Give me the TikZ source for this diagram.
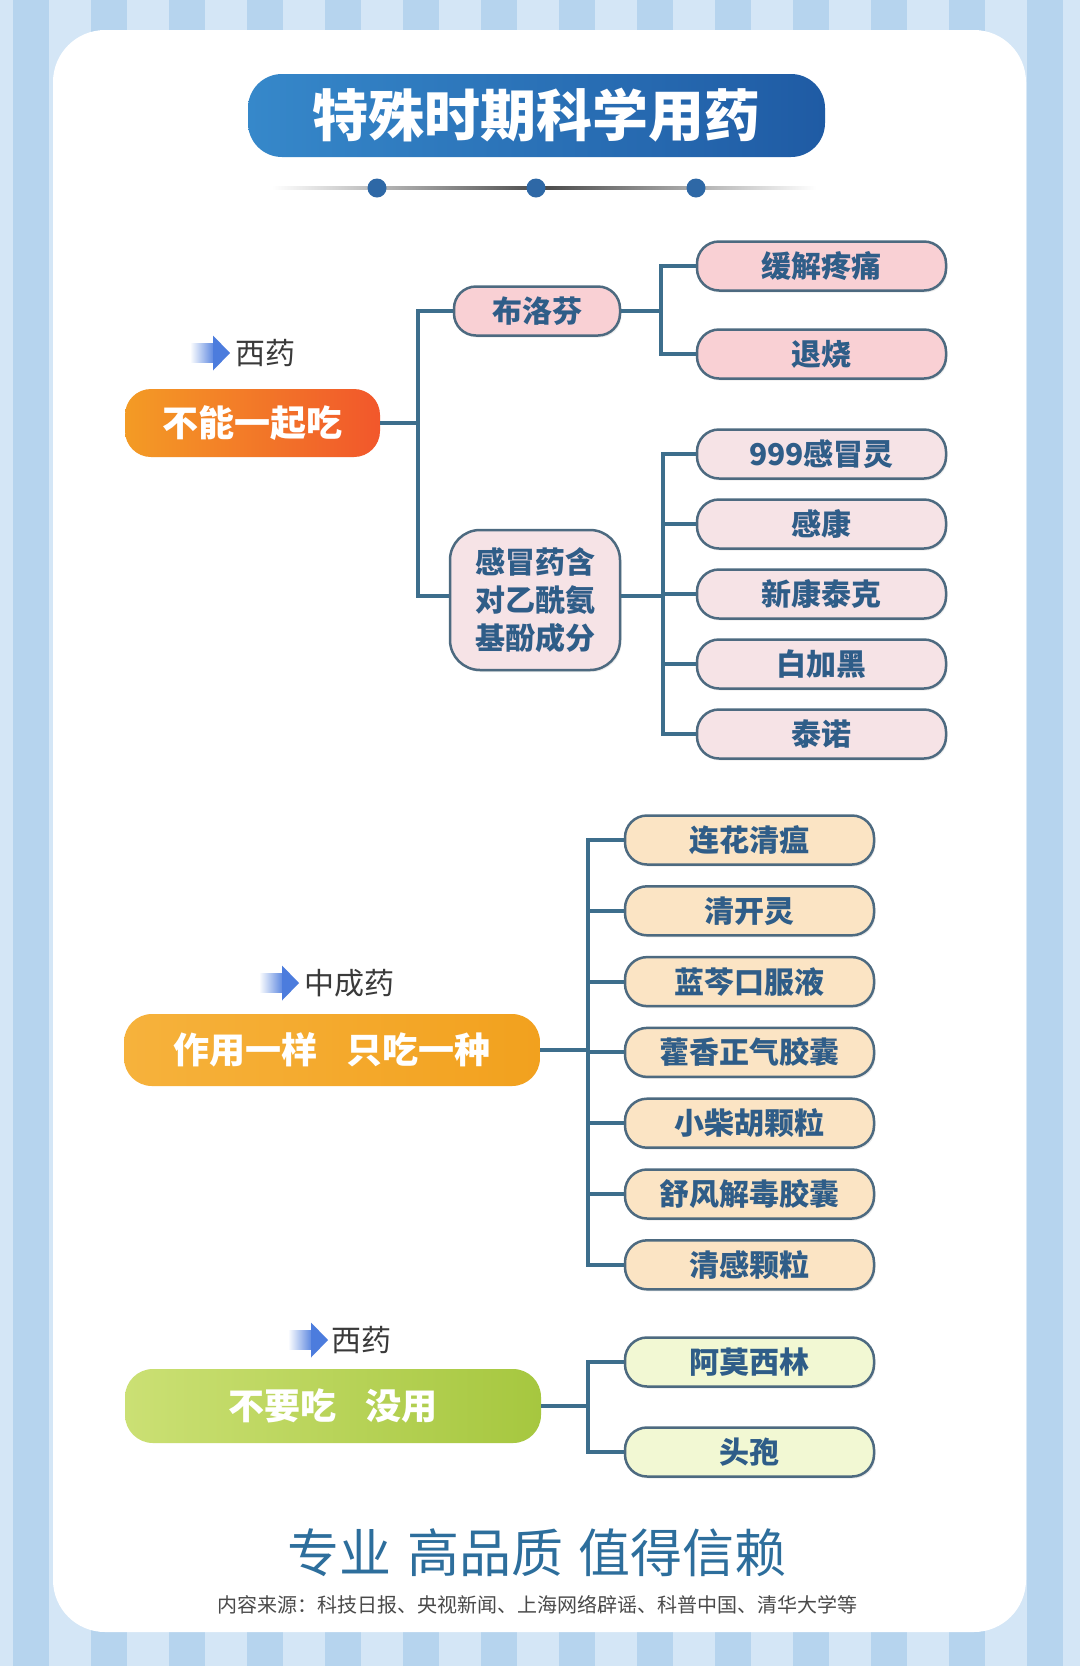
\documentclass[tikz,border=0pt]{standalone}
\usepackage{fontspec}
\setmainfont{Noto Sans CJK SC}
\usetikzlibrary{shadows}
\definecolor{stripeL}{HTML}{D4E6F6}
\definecolor{stripeD}{HTML}{B6D4EE}
\definecolor{titleL}{HTML}{3688CA}
\definecolor{titleR}{HTML}{1F5BA4}
\definecolor{dotblue}{HTML}{2E68A6}
\definecolor{linegray}{HTML}{4A4A4A}
\definecolor{boxline}{HTML}{4D6A80}
\definecolor{connc}{HTML}{3D6E8C}
\definecolor{txtblue}{HTML}{2F5D88}
\definecolor{tagc}{HTML}{3A3A3A}
\definecolor{arrowblue}{HTML}{4C7CDD}
\definecolor{pinkA}{HTML}{F9D0D4}
\definecolor{pinkB}{HTML}{F6E3E6}
\definecolor{orangeB}{HTML}{FBE4C4}
\definecolor{greenB}{HTML}{F2F8D3}
\definecolor{p1L}{HTML}{F39B25}
\definecolor{p1R}{HTML}{F2572B}
\definecolor{p2L}{HTML}{F6B23C}
\definecolor{p2R}{HTML}{F2A11E}
\definecolor{p3L}{HTML}{CBE074}
\definecolor{p3R}{HTML}{A6C73F}
\definecolor{foot}{HTML}{2D6E9C}
\definecolor{src}{HTML}{4A4A4A}
\begin{document}
\begin{tikzpicture}[x=1pt,y=-1pt,
  leaf/.style={draw=boxline, line width=2.5pt, rounded corners=22pt,
    minimum width=249pt, minimum height=49pt, inner sep=0pt, text=txtblue,
    font=\bfseries\fontsize{30}{36}\selectfont,
    drop shadow={opacity=0.15, shadow xshift=1.5pt, shadow yshift=-2pt}},
  mid/.style={leaf, minimum width=166pt},
  pill/.style={rounded corners=26pt, inner sep=0pt, text=white,
    font=\bfseries\fontsize{36}{42}\selectfont},
  conn/.style={draw=connc, line width=4pt},
  tag/.style={anchor=west, inner sep=0pt, text=tagc,
    font=\fontsize{30}{36}\selectfont},
  medarr/.pic={
    \shade[left color=white, right color=arrowblue] (0,-9.5) rectangle (26,9.5);
    \fill[arrowblue] (23,-17.5) -- (40,0) -- (23,17.5) -- cycle;
  }
]
\useasboundingbox (0,0) rectangle (1080,1666);
% background stripes
\fill[stripeL] (0,0) rectangle (1080,1666);
\foreach \i in {0,...,13} {
  \fill[stripeD] ({13+78*\i},0) rectangle ({49+78*\i},1666);
}
% card
\fill[white, rounded corners=52pt] (53,30) rectangle (1026,1632);

% title
\node[rounded corners=34pt, left color=titleL, right color=titleR,
  minimum width=577pt, minimum height=83pt, inner sep=0pt, text=white,
  font=\bfseries\fontsize{56}{60}\selectfont] (title) at (536.5,115.5) {特殊时期科学用药};
\shade[left color=white, right color=linegray] (272,186.5) rectangle (544,189.5);
\shade[left color=linegray, right color=white] (544,186.5) rectangle (816,189.5);
\fill[dotblue] (377,188) circle (9.5);
\fill[dotblue] (536,188) circle (9.5);
\fill[dotblue] (696,188) circle (9.5);

% ===== section 1 =====
\path (190,353) pic {medarr};
\node[tag] (t1) at (235,353) {西药};
\node[pill, left color=p1L, right color=p1R, minimum width=255pt, minimum height=68pt] (p1) at (252.5,423) {不能一起吃};

\node[mid, fill=pinkA] (blf) at (537,311) {布洛芬};
\node[leaf, fill=pinkB, minimum width=170pt, minimum height=140pt, rounded corners=30pt,
  align=center, font=\bfseries\fontsize{30}{38}\selectfont] (gm) at (535,600) {感冒药含\\对乙酰氨\\基酚成分};

\node[leaf, fill=pinkA] (a1) at (821.5,266) {缓解疼痛};
\node[leaf, fill=pinkA] (a2) at (821.5,354) {退烧};

\node[leaf, fill=pinkB] (b1) at (821.5,454) {999感冒灵};
\node[leaf, fill=pinkB] (b2) at (821.5,524) {感康};
\node[leaf, fill=pinkB] (b3) at (821.5,594) {新康泰克};
\node[leaf, fill=pinkB] (b4) at (821.5,664) {白加黑};
\node[leaf, fill=pinkB] (b5) at (821.5,734) {泰诺};

\coordinate (j1) at (418,423);
\coordinate (j2) at (661,311);
\coordinate (j3) at (663,596);
\draw[conn] (p1.east) -- (j1);
\draw[conn] (blf.west) -| (j1) |- (gm.west |- j3);
\draw[conn] (blf.east) -- (j2);
\draw[conn] (a1.west) -| (j2) |- (a2.west);
\draw[conn] (gm.east |- j3) -- (j3);
\draw[conn] (b1.west) -| (j3) |- (b5.west);
\draw[conn] (b2.west) -- (b2.west -| j3);
\draw[conn] (b3.west) -- (b3.west -| j3);
\draw[conn] (b4.west) -- (b4.west -| j3);

% ===== section 2 =====
\path (259,983) pic {medarr};
\node[tag] (t2) at (304,983) {中成药};
\node[pill, left color=p2L, right color=p2R, minimum width=416pt, minimum height=72pt, rounded corners=28pt] (p2) at (332,1050) {作用一样\hspace{0.8em}只吃一种};

\node[leaf, fill=orangeB] (c1) at (749.5,840) {连花清瘟};
\node[leaf, fill=orangeB] (c2) at (749.5,910.8) {清开灵};
\node[leaf, fill=orangeB] (c3) at (749.5,981.6) {蓝芩口服液};
\node[leaf, fill=orangeB] (c4) at (749.5,1052.4) {藿香正气胶囊};
\node[leaf, fill=orangeB] (c5) at (749.5,1123.2) {小柴胡颗粒};
\node[leaf, fill=orangeB] (c6) at (749.5,1194) {舒风解毒胶囊};
\node[leaf, fill=orangeB] (c7) at (749.5,1264.8) {清感颗粒};

\coordinate (j4) at (588,1050);
\draw[conn] (p2.east) -- (j4);
\draw[conn] (c1.west) -| (j4) |- (c7.west);
\foreach \n in {c2,c3,c4,c5,c6} {
  \draw[conn] (\n.west) -- (\n.west -| j4);
}

% ===== section 3 =====
\path (288,1340) pic {medarr};
\node[tag] (t3) at (331,1340) {西药};
\node[pill, left color=p3L, right color=p3R, minimum width=416pt, minimum height=74pt, rounded corners=28pt] (p3) at (333,1406) {不要吃\hspace{0.8em}没用};

\node[leaf, fill=greenB] (d1) at (749.5,1362) {阿莫西林};
\node[leaf, fill=greenB] (d2) at (749.5,1452) {头孢};

\coordinate (j5) at (588,1406);
\draw[conn] (p3.east) -- (j5);
\draw[conn] (d1.west) -| (j5) |- (d2.west);

% footer
\node[text=foot, inner sep=0pt, font=\fontsize{52}{58}\selectfont] (slogan) at (537,1553)
  {专业\hspace{0.3em}高品质\hspace{0.3em}值得信赖};
\node[text=src, inner sep=0pt, font=\fontsize{20}{24}\selectfont] (source) at (537,1605)
  {内容来源：科技日报、央视新闻、上海网络辟谣、科普中国、清华大学等};
\end{tikzpicture}
\end{document}
